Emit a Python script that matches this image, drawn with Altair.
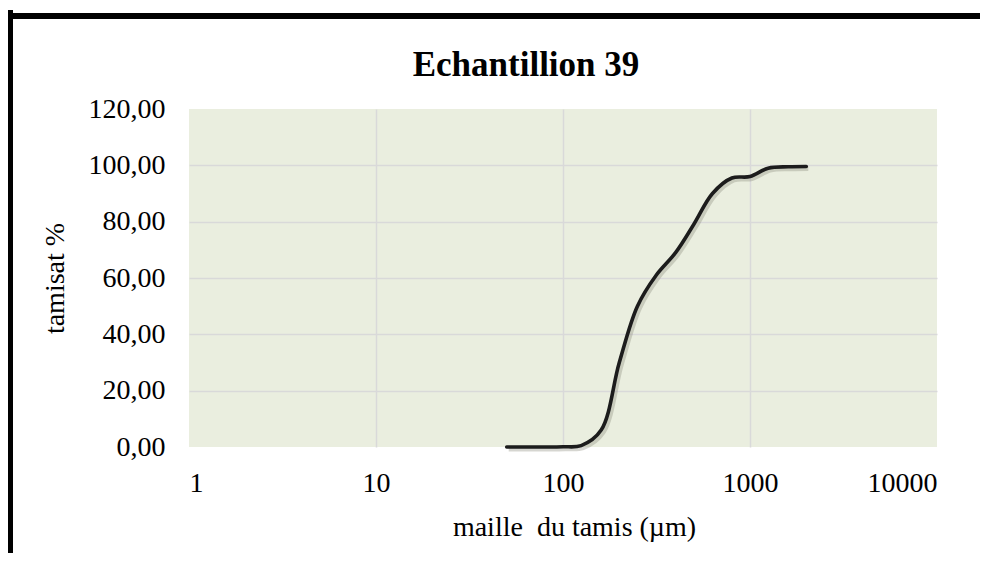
import altair as alt
import pandas as pd

# ---- data ----
sieve_um = [50, 63, 80, 100, 125, 160, 200, 250, 315, 400, 500, 630, 800, 1000, 1250, 1600, 2000]
passing_pct = [0.0, 0.0, 0.0, 0.1, 0.5, 6.0, 30.0, 50.0, 61.0, 69.0, 79.0, 90.0, 95.5, 96.0, 99.0, 99.5, 99.6]
x_ticks = [1, 10, 100, 1000, 10000]
y_ticks = [0, 20, 40, 60, 80, 100, 120]

df = pd.DataFrame({"maille": sieve_um, "tamisat": passing_pct})

FONT = "Liberation Serif"
FS = 28

x_enc = alt.X(
    "maille:Q",
    scale=alt.Scale(type="log", domain=[1, 10000], nice=False),
    axis=alt.Axis(
        values=x_ticks,
        format="d",
        title="maille\u00a0 du tamis (µm)",
        titleX=385,
        titlePadding=16,
        labelPadding=22,
        ticks=False,
        domain=False,
        gridColor="#D9D9D9",
        gridWidth=1.5,
        gridOpacity={"condition": {"test": "datum.value == 1 || datum.value == 10000", "value": 0}, "value": 1},
    ),
)
y_enc = alt.Y(
    "tamisat:Q",
    scale=alt.Scale(domain=[0, 120], nice=False),
    axis=alt.Axis(
        values=y_ticks,
        labelExpr="replace(format(datum.value, '.2f'), '.', ',')",
        title="tamisat %",
        titlePadding=19,
        labelPadding=24,
        ticks=False,
        domain=False,
        gridColor="#D9D9D9",
        gridWidth=1.5,
        gridOpacity={"condition": {"test": "datum.value == 0 || datum.value == 120", "value": 0}, "value": 1},
    ),
)

shadow = alt.Chart(df).mark_line(
    interpolate="catmull-rom", color="#8a8a7a", opacity=0.35, strokeWidth=5, xOffset=2, yOffset=2
).encode(x=x_enc, y=y_enc)

curve = alt.Chart(df).mark_line(
    interpolate="catmull-rom", color="#1c1c1c", strokeWidth=3.6, strokeCap="round"
).encode(x=x_enc, y=y_enc)

frame = alt.Data(values=[{}])
border_left = alt.Chart(frame).mark_rule(color="black", strokeWidth=6, strokeCap="square").encode(
    x=alt.value(-179), y=alt.value(-96), y2=alt.value(470)
)
border_top = alt.Chart(frame).mark_rule(color="black", strokeWidth=6, strokeCap="square").encode(
    x=alt.value(-182), x2=alt.value(820), y=alt.value(-93)
)

chart = (
    alt.layer(shadow, curve, border_left, border_top)
    .properties(
        width=748,
        height=338,
        autosize=alt.AutoSizeParams(type="none"),
        padding={"left": 181, "top": 101, "right": 43, "bottom": 106},
        title=alt.TitleParams(
            "Echantillion 39",
            font=FONT,
            fontSize=35,
            fontWeight="bold",
            color="black",
            anchor="middle",
            baseline="alphabetic",
            dx=-37,
            offset=-102,
        ),
    )
    .configure(background="white")
    .configure_view(fill="#EAEEDF", stroke=None)
    .configure_axis(
        labelFont=FONT,
        labelFontSize=FS,
        labelColor="black",
        titleFont=FONT,
        titleFontSize=FS,
        titleFontWeight="normal",
        titleColor="black",
    )
)

chart.save("out.html", embed_options={"renderer": "svg", "actions": False})
